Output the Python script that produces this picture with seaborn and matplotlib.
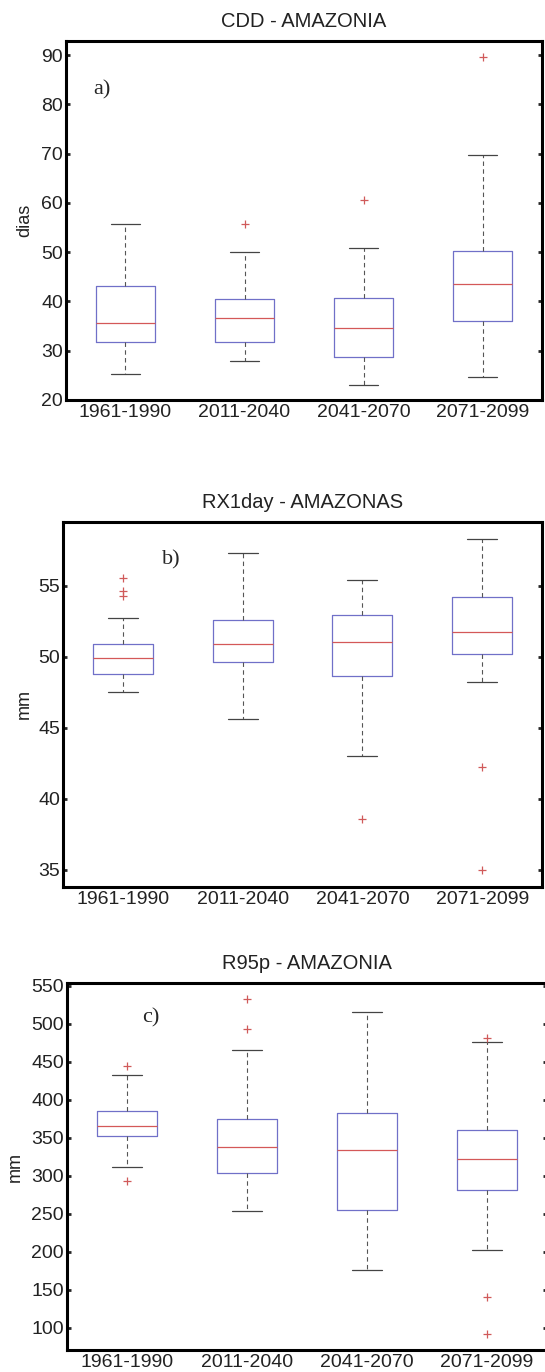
import matplotlib
matplotlib.use("Agg")
import matplotlib.pyplot as plt
import seaborn as sns
import pandas as pd

periods = ["1961-1990", "2011-2040", "2041-2070", "2071-2099"]

# five-number summaries per period: [lower whisker, q1, median, q3, upper whisker]
cdd_box = [
    [25.2, 31.8, 35.6, 43.2, 55.8],
    [27.9, 31.8, 36.6, 40.5, 50.1],
    [23.1, 28.7, 34.7, 40.6, 50.9],
    [24.7, 36.0, 43.5, 50.2, 69.7],
]
cdd_fliers = [[], [55.8], [60.5], [89.7]]

rx1_box = [
    [47.5, 48.8, 49.9, 50.9, 52.7],
    [45.6, 49.6, 50.9, 52.6, 57.3],
    [43.0, 48.6, 51.0, 52.9, 55.4],
    [48.2, 50.2, 51.7, 54.2, 58.3],
]
rx1_fliers = [[55.5, 54.6, 54.3], [], [38.6], [42.2, 35.0]]

r95_box = [
    [312.3, 352.6, 365.8, 385.5, 432.9],
    [254.4, 304.4, 337.3, 375.4, 465.8],
    [176.3, 254.8, 334.6, 382.0, 515.8],
    [202.6, 281.1, 321.9, 360.1, 475.9],
]
r95_fliers = [[444.3, 293.9], [532.5, 493.0], [], [481.0, 140.4, 92.1]]

sns.set_theme(style="white")
plt.rcParams["font.family"] = ["Liberation Sans", "DejaVu Sans"]

panels = [
    dict(box=cdd_box, fliers=cdd_fliers, title="CDD - AMAZONIA", ylabel="dias",
         ylim=(20, 92.9), ticks=range(20, 91, 10), tag="a)",
         rect=[0.1211, 0.7085, 0.8734, 0.2618], tagpos=(0.057, 0.863), labx=-0.069),
    dict(box=rx1_box, fliers=rx1_fliers, title="RX1day - AMAZONAS", ylabel="mm",
         ylim=(33.8, 59.5), ticks=range(35, 56, 5), tag="b)",
         rect=[0.1156, 0.3537, 0.8789, 0.2661], tagpos=(0.207, 0.895), labx=-0.063),
    dict(box=r95_box, fliers=r95_fliers, title="R95p - AMAZONIA", ylabel="mm",
         ylim=(71, 553.5), ticks=range(100, 551, 50), tag="c)",
         rect=[0.1224, 0.016, 0.8813, 0.2675], tagpos=(0.156, 0.905), labx=-0.089),
]

fig = plt.figure(figsize=(5.45, 13.72), dpi=100)

for p in panels:
    ax = fig.add_axes(p["rect"])
    box_df = pd.DataFrame(
        [(per, v) for per, vals in zip(periods, p["box"]) for v in vals],
        columns=["period", "value"])
    flier_df = pd.DataFrame(
        [(per, v) for per, vals in zip(periods, p["fliers"]) for v in vals],
        columns=["period", "value"])

    sns.boxplot(data=box_df, x="period", y="value", order=periods, ax=ax,
                whis=(0, 100), width=0.5, fill=False, color="#7070c8",
                showfliers=False, linewidth=0.9,
                medianprops=dict(color="#d45858", linewidth=0.9),
                whiskerprops=dict(color="#555555", linestyle=(0, (4, 3)), linewidth=0.8),
                capprops=dict(color="#444444", linewidth=0.9))
    if len(flier_df):
        sns.stripplot(data=flier_df, x="period", y="value", order=periods, ax=ax,
                      jitter=False, marker="+", color="#d05a5a", size=6,
                      linewidth=0.9)

    ax.set_xlim(-0.5, 3.5)
    ax.set_ylim(*p["ylim"])
    ax.set_yticks(list(p["ticks"]))
    ax.set_xlabel("")
    ax.set_ylabel(p["ylabel"], fontsize=13, color="#222222")
    ax.yaxis.set_label_coords(p["labx"], 0.5)
    ax.set_title(p["title"], fontsize=14.5, pad=10, color="#222222")
    for s in ax.spines.values():
        s.set_linewidth(2.2)
        s.set_color("black")
    ax.tick_params(axis="y", direction="in", left=True, right=True, length=3,
                   width=2, labelsize=14, labelcolor="#222222", pad=2)
    ax.tick_params(axis="x", length=0, labelsize=14, labelcolor="#222222", pad=3)
    ax.text(p["tagpos"][0], p["tagpos"][1], p["tag"], transform=ax.transAxes,
            fontsize=16, family="Liberation Serif", va="center", ha="left")

fig.savefig("out.png", dpi=100)
